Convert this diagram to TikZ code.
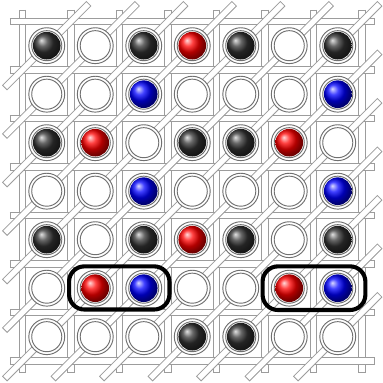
\documentclass[tikz,border=0pt]{standalone}
\usepackage{tikz}
\usetikzlibrary{calc}
\definecolor{barline}{HTML}{9C9C9C}
\definecolor{ringline}{HTML}{707070}
\tikzset{
 barout/.style={draw=barline,line width=4.2pt},
 barin/.style={draw=white,line width=3.1pt,shorten <=0.55pt,shorten >=0.55pt},
 ring/.style={draw=ringline,fill=white,line width=0.55pt},
 ballk/.style={ball color=black!80},
 ballr/.style={ball color=red},
 ballb/.style={ball color=blue},
 ballo/.style={},
 pairbox/.style={draw=black,line width=2.4pt,rounded corners=9pt}}
\newcommand{\latrod}[2]{\draw[barout] #1 -- #2; \draw[barin] #1 -- #2;}

\begin{document}
\begin{tikzpicture}
 \useasboundingbox (-0.964,-6.955) rectangle (6.933,0.942);
 % lattice rods
 \foreach \x in {0,...,7}{
  \latrod{({\x-0.5},0.74)}{({\x-0.5},-6.75)}
 }
 \foreach \y in {0,...,7}{
  \latrod{(-0.76,{0.5-\y})}{(6.77,{0.5-\y})}
 }
 \foreach \k in {0,...,12}{
  \pgfmathsetmacro\lo{max(0,\k-6)}
  \pgfmathsetmacro\hi{min(6,\k)}
  \latrod{({\lo-0.87},{\lo-\k-0.87})}{({\hi+0.87},{\hi-\k+0.87})}
 }
 % sites
 \foreach \r/\sites in {0/{k,o,k,r,k,o,k},1/{o,o,b,o,o,o,b},2/{k,r,o,k,k,r,o},
   3/{o,o,b,o,o,o,b},4/{k,o,k,r,k,o,k},5/{o,r,b,o,o,r,b},6/{o,o,o,k,k,o,o}}{
  \foreach \s [count=\c from 0] in \sites {
   \path[ring] (\c,-\r) circle (0.37);
   \draw[ringline,line width=0.55pt] (\c,-\r) circle (0.31);
   \path[ball\s] (\c,-\r) circle (0.285);
  }
 }
 % pairs
 \draw[pairbox] (0.46,-5.44) rectangle (2.53,-4.55);
 \draw[pairbox] (4.45,-5.45) rectangle (6.57,-4.55);
\end{tikzpicture}
\end{document}
